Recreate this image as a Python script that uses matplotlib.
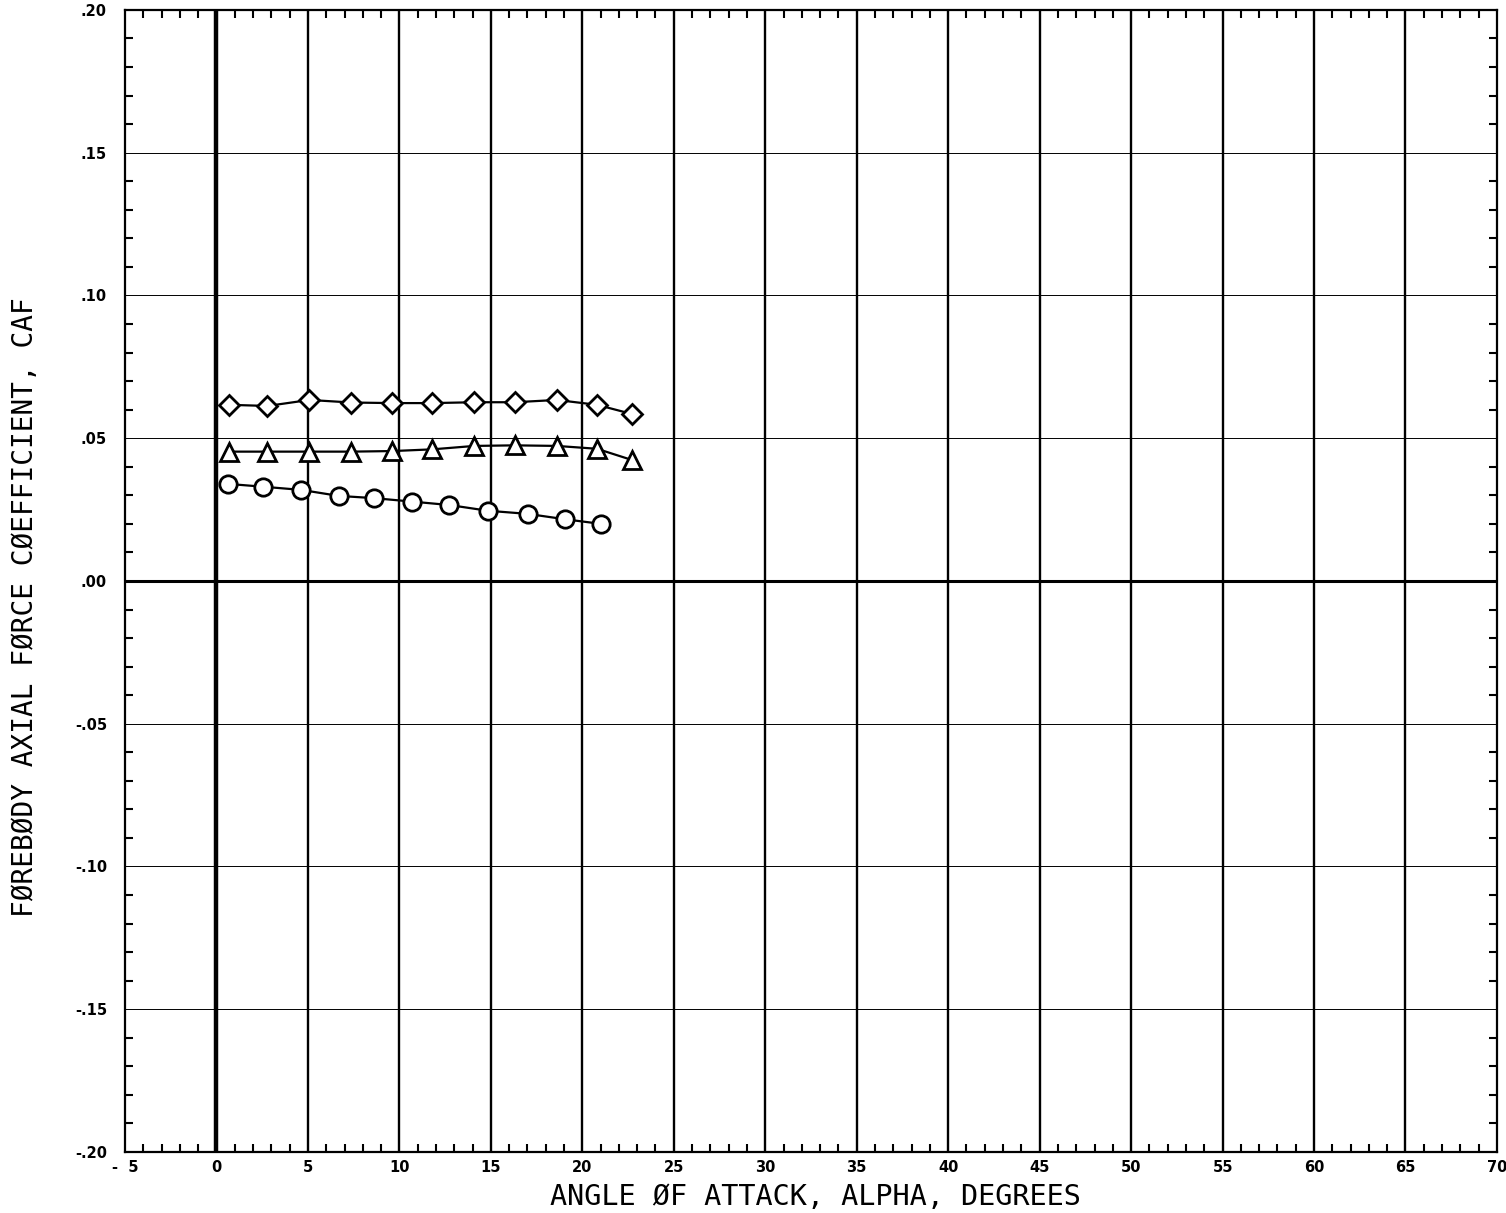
import numpy as np
import matplotlib.pyplot as plt
from matplotlib.ticker import MultipleLocator, FixedLocator

# angle of attack (deg) and forebody axial force coefficient for each run
alpha_diamond = [0.66, 2.79, 5.08, 7.38, 9.62, 11.8, 14.1, 16.3, 18.6, 20.8, 22.7]
caf_diamond = [0.0617, 0.0613, 0.0634, 0.0625, 0.0623, 0.0623, 0.0626, 0.0626, 0.0634, 0.0617, 0.0585]

alpha_triangle = [0.66, 2.79, 5.08, 7.38, 9.62, 11.8, 14.1, 16.3, 18.6, 20.8, 22.7]
caf_triangle = [0.0453, 0.0453, 0.0453, 0.0453, 0.0455, 0.0461, 0.0473, 0.0475, 0.0473, 0.0463, 0.0424]

alpha_circle = [0.62, 2.57, 4.63, 6.68, 8.63, 10.69, 12.73, 14.83, 17.01, 19.07, 21.02]
caf_circle = [0.0340, 0.0330, 0.0319, 0.0298, 0.0290, 0.0278, 0.0266, 0.0246, 0.0235, 0.0216, 0.0200]

x_ticks = list(range(-5, 71, 5))
x_tick_labels = ['-  5'] + [str(v) for v in range(0, 71, 5)]
y_ticks = [-0.20, -0.15, -0.10, -0.05, 0.00, 0.05, 0.10, 0.15, 0.20]
y_tick_labels = ['-.20', '-.15', '-.10', '-.05', '.00', '.05', '.10', '.15', '.20']

fig = plt.figure(figsize=(15.06, 12.13), dpi=100)
ax = fig.add_axes([0.083, 0.0503, 0.911, 0.9415])

ax.set_xlim(-5, 70)
ax.set_ylim(-0.20, 0.20)

# grid: heavy verticals, light horizontals
for v in x_ticks[1:-1]:
    ax.axvline(v, color='black', lw=3.2 if v == 0 else 1.7, zorder=1)
for v in y_ticks[1:-1]:
    ax.axhline(v, color='black', lw=2.2 if v == 0 else 0.7, zorder=1)

mk = dict(color='black', lw=1.6, mfc='white', mec='black', mew=2.0, zorder=3)
ax.plot(alpha_diamond, caf_diamond, marker='D', ms=10, **mk)
ax.plot(alpha_triangle, caf_triangle, marker='^', ms=12.5, **mk)
ax.plot(alpha_circle, caf_circle, marker='o', ms=12.5, **mk)

for s in ax.spines.values():
    s.set_linewidth(1.6)

ax.xaxis.set_major_locator(FixedLocator(x_ticks))
ax.set_xticklabels(x_tick_labels)
ax.xaxis.set_minor_locator(MultipleLocator(1))
ax.yaxis.set_major_locator(FixedLocator(y_ticks))
ax.set_yticklabels(y_tick_labels)
ax.yaxis.set_minor_locator(MultipleLocator(0.01))

ax.tick_params(which='both', direction='in', top=True, right=True, width=1.5)
ax.tick_params(which='major', length=0, labelsize=10.5)
ax.tick_params(axis='x', which='major', pad=6)
ax.tick_params(axis='y', which='major', pad=13)
ax.tick_params(which='minor', length=6)
for lab in ax.get_xticklabels() + ax.get_yticklabels():
    lab.set_fontweight('bold')

ax.set_xlabel('ANGLE ØF ATTACK, ALPHA, DEGREES', family='DejaVu Sans Mono',
              fontsize=20.5, va='center')
ax.xaxis.set_label_coords(0.503, -0.039)
ax.set_ylabel('FØREBØDY AXIAL FØRCE CØEFFICIENT, CAF', family='DejaVu Sans Mono',
              fontsize=20, va='center')
ax.yaxis.set_label_coords(-0.073, 0.477)

fig.savefig('out.png', dpi=100)
